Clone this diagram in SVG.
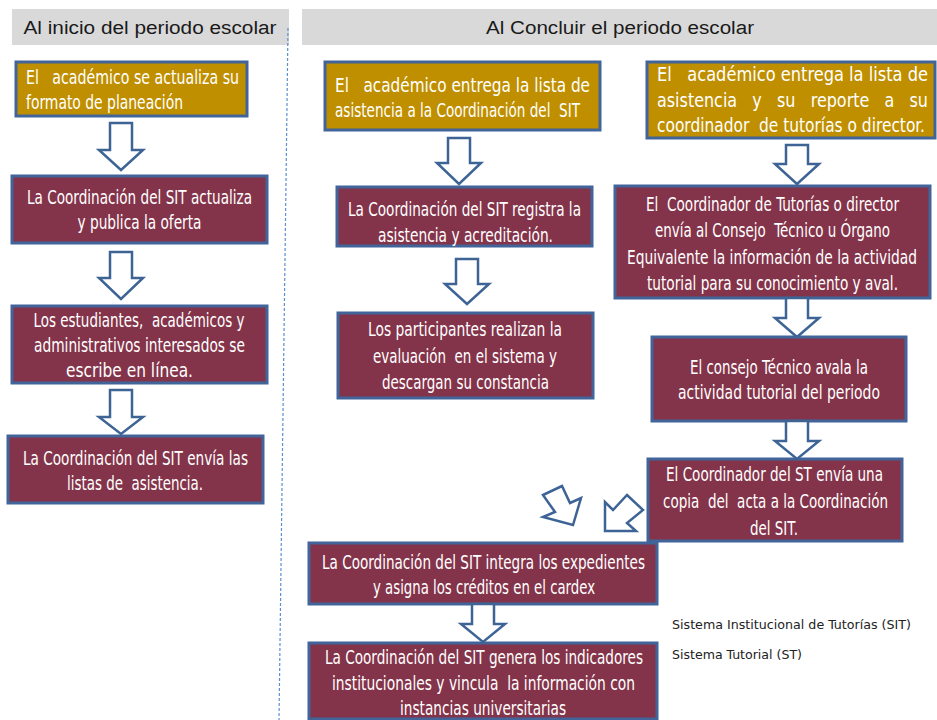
<svg xmlns="http://www.w3.org/2000/svg" width="937" height="720" viewBox="0 0 937 720">
<defs>
<style>
.hdr{fill:#D9D9D9}
.htx{font-family:"Liberation Sans",Arial,sans-serif;font-size:18px;fill:#1a1a1a;text-anchor:middle}
.gold{fill:#BF8F00;stroke:#41659A;stroke-width:3}
.mar{fill:#84344A;stroke:#41659A;stroke-width:3}
.t{font-family:"Liberation Sans Narrow","DejaVu Sans Condensed","Liberation Sans",sans-serif;font-size:19px;fill:#ffffff;white-space:pre}
.c{text-anchor:middle}
.arr{fill:#ffffff;stroke:#3E6496;stroke-width:2.5;stroke-linejoin:miter}
.leg{font-family:"Liberation Sans Narrow","DejaVu Sans Condensed","Liberation Sans",sans-serif;font-size:13px;fill:#222222}
</style>
</defs>
<rect width="937" height="720" fill="#ffffff"/>

<g id="headers">
<rect class="hdr" x="12" y="9" width="277" height="36"/>
<text class="htx" x="150" y="34" textLength="253" lengthAdjust="spacingAndGlyphs">Al inicio del periodo escolar</text>
<rect class="hdr" x="302" y="9" width="635" height="36"/>
<text class="htx" x="620" y="34" textLength="268" lengthAdjust="spacingAndGlyphs">Al Concluir el periodo escolar</text>
</g>

<line id="divider" x1="288" y1="28" x2="279" y2="720" stroke="#5B8FD0" stroke-width="1.2" stroke-dasharray="3,2"/>

<g id="n_l1">
<rect class="gold" x="16" y="62" width="231" height="54"/>
<text class="t" x="26" y="84" textLength="213" lengthAdjust="spacingAndGlyphs">El   académico se actualiza su</text>
<text class="t" x="26" y="109" textLength="157" lengthAdjust="spacingAndGlyphs">formato de planeación</text>
</g>
<g id="n_l2">
<rect class="mar" x="12" y="176" width="255" height="67"/>
<text class="t c" x="139.5" y="204" textLength="225" lengthAdjust="spacingAndGlyphs">La Coordinación del SIT actualiza</text>
<text class="t c" x="139.5" y="229" textLength="124" lengthAdjust="spacingAndGlyphs">y publica la oferta</text>
</g>
<g id="n_l3">
<rect class="mar" x="12" y="306" width="255" height="77"/>
<text class="t c" x="139" y="327" textLength="211" lengthAdjust="spacingAndGlyphs">Los estudiantes,  académicos y</text>
<text class="t c" x="139.5" y="352" textLength="211" lengthAdjust="spacingAndGlyphs">administrativos interesados se</text>
<text class="t c" x="129.5" y="377" textLength="127" lengthAdjust="spacingAndGlyphs">escribe en línea.</text>
</g>
<g id="n_l4">
<rect class="mar" x="8" y="436" width="255" height="67"/>
<text class="t c" x="135.5" y="465" textLength="225" lengthAdjust="spacingAndGlyphs">La Coordinación del SIT envía las</text>
<text class="t c" x="135" y="490" textLength="136" lengthAdjust="spacingAndGlyphs">listas de  asistencia.</text>
</g>

<g id="n_r1">
<rect class="gold" x="325" y="62" width="275" height="68"/>
<text class="t" x="335" y="92" textLength="255" lengthAdjust="spacingAndGlyphs">El   académico entrega la lista de</text>
<text class="t" x="335" y="117" textLength="245" lengthAdjust="spacingAndGlyphs">asistencia a la Coordinación del  SIT</text>
</g>
<g id="n_r2">
<rect class="gold" x="647" y="62" width="288" height="76"/>
<text class="t" x="657" y="81" textLength="271" lengthAdjust="spacingAndGlyphs">El   académico entrega la lista de</text>
<text class="t" x="657" y="107" textLength="271" lengthAdjust="spacingAndGlyphs">asistencia   y   su   reporte   a   su</text>
<text class="t" x="657" y="132" textLength="268" lengthAdjust="spacingAndGlyphs">coordinador  de tutorías o director.</text>
</g>
<g id="n_r3">
<rect class="mar" x="337" y="187" width="255" height="59"/>
<text class="t c" x="464.5" y="216" textLength="233" lengthAdjust="spacingAndGlyphs">La Coordinación del SIT registra la</text>
<text class="t c" x="465.5" y="242" textLength="175" lengthAdjust="spacingAndGlyphs">asistencia y acreditación.</text>
</g>
<g id="n_r4">
<rect class="mar" x="338" y="313" width="255" height="85"/>
<text class="t c" x="465" y="336" textLength="194" lengthAdjust="spacingAndGlyphs">Los participantes realizan la</text>
<text class="t c" x="465" y="363" textLength="184" lengthAdjust="spacingAndGlyphs">evaluación  en el sistema y</text>
<text class="t c" x="465.5" y="389" textLength="167" lengthAdjust="spacingAndGlyphs">descargan su constancia</text>
</g>
<g id="n_r5">
<rect class="mar" x="615" y="186" width="315" height="112"/>
<text class="t c" x="772.5" y="211" textLength="253" lengthAdjust="spacingAndGlyphs">El  Coordinador de Tutorías o director</text>
<text class="t c" x="772.5" y="237" textLength="235" lengthAdjust="spacingAndGlyphs">envía al Consejo  Técnico u Órgano</text>
<text class="t c" x="772" y="264" textLength="290" lengthAdjust="spacingAndGlyphs">Equivalente la información de la actividad</text>
<text class="t c" x="772.5" y="290" textLength="251" lengthAdjust="spacingAndGlyphs">tutorial para su conocimiento y aval.</text>
</g>
<g id="n_r6">
<rect class="mar" x="652" y="337" width="254" height="84"/>
<text class="t c" x="779" y="374" textLength="178" lengthAdjust="spacingAndGlyphs">El consejo Técnico avala la</text>
<text class="t c" x="779" y="399" textLength="202" lengthAdjust="spacingAndGlyphs">actividad tutorial del periodo</text>
</g>
<g id="n_r7">
<rect class="mar" x="648" y="459" width="254" height="82"/>
<text class="t c" x="774.5" y="481" textLength="217" lengthAdjust="spacingAndGlyphs">El Coordinador del ST envía una</text>
<text class="t c" x="775.5" y="508" textLength="225" lengthAdjust="spacingAndGlyphs">copia  del  acta a la Coordinación</text>
<text class="t c" x="774" y="535" textLength="48" lengthAdjust="spacingAndGlyphs">del SIT.</text>
</g>
<g id="n_b1">
<rect class="mar" x="309" y="543" width="348" height="61"/>
<text class="t c" x="483.5" y="569" textLength="323" lengthAdjust="spacingAndGlyphs">La Coordinación del SIT integra los expedientes</text>
<text class="t c" x="484" y="594" textLength="222" lengthAdjust="spacingAndGlyphs">y asigna los créditos en el cardex</text>
</g>
<g id="n_b2">
<rect class="mar" x="309" y="643" width="348" height="76"/>
<text class="t c" x="484" y="664" textLength="318" lengthAdjust="spacingAndGlyphs">La Coordinación del SIT genera los indicadores</text>
<text class="t c" x="483.5" y="690" textLength="303" lengthAdjust="spacingAndGlyphs">institucionales y vincula  la información con</text>
<text class="t c" x="483" y="715" textLength="166" lengthAdjust="spacingAndGlyphs">instancias universitarias</text>
</g>

<g id="legend">
<text class="leg" x="672" y="629" textLength="239" lengthAdjust="spacingAndGlyphs">Sistema Institucional de Tutorías (SIT)</text>
<text class="leg" x="672" y="659" textLength="130" lengthAdjust="spacingAndGlyphs">Sistema Tutorial (ST)</text>
</g>

<g id="connectors">
<path class="arr" d="M110,123 H132 V150 H143 L121,170 L99,150 H110 Z"/>
<path class="arr" d="M110,252 H132 V278 H143 L121,299 L99,278 H110 Z"/>
<path class="arr" d="M110,390 H132 V417 H143 L121,434 L99,417 H110 Z"/>
<path class="arr" d="M448,138 H470 V163 H481 L459,184 L437,163 H448 Z"/>
<path class="arr" d="M456,259 H478 V284 H489 L467,304 L445,284 H456 Z"/>
<path class="arr" d="M786,145 H808 V164 H819 L797,184 L775,164 H786 Z"/>
<path class="arr" d="M786,298 H808 V318 H819 L797,337 L775,318 H786 Z"/>
<path class="arr" d="M786,421 H808 V441 H819 L797,459 L775,441 H786 Z"/>
<path class="arr" d="M472,604 H494 V624 H505 L483,642 L461,624 H472 Z"/>
<polygon class="arr" points="543,495 562,486 570,503 581,498 573,525 543,517 555,512"/>
<polygon class="arr" points="627,495 643,510 627,523 636,531 605,531 605,502 613,510"/>
</g>
</svg>
